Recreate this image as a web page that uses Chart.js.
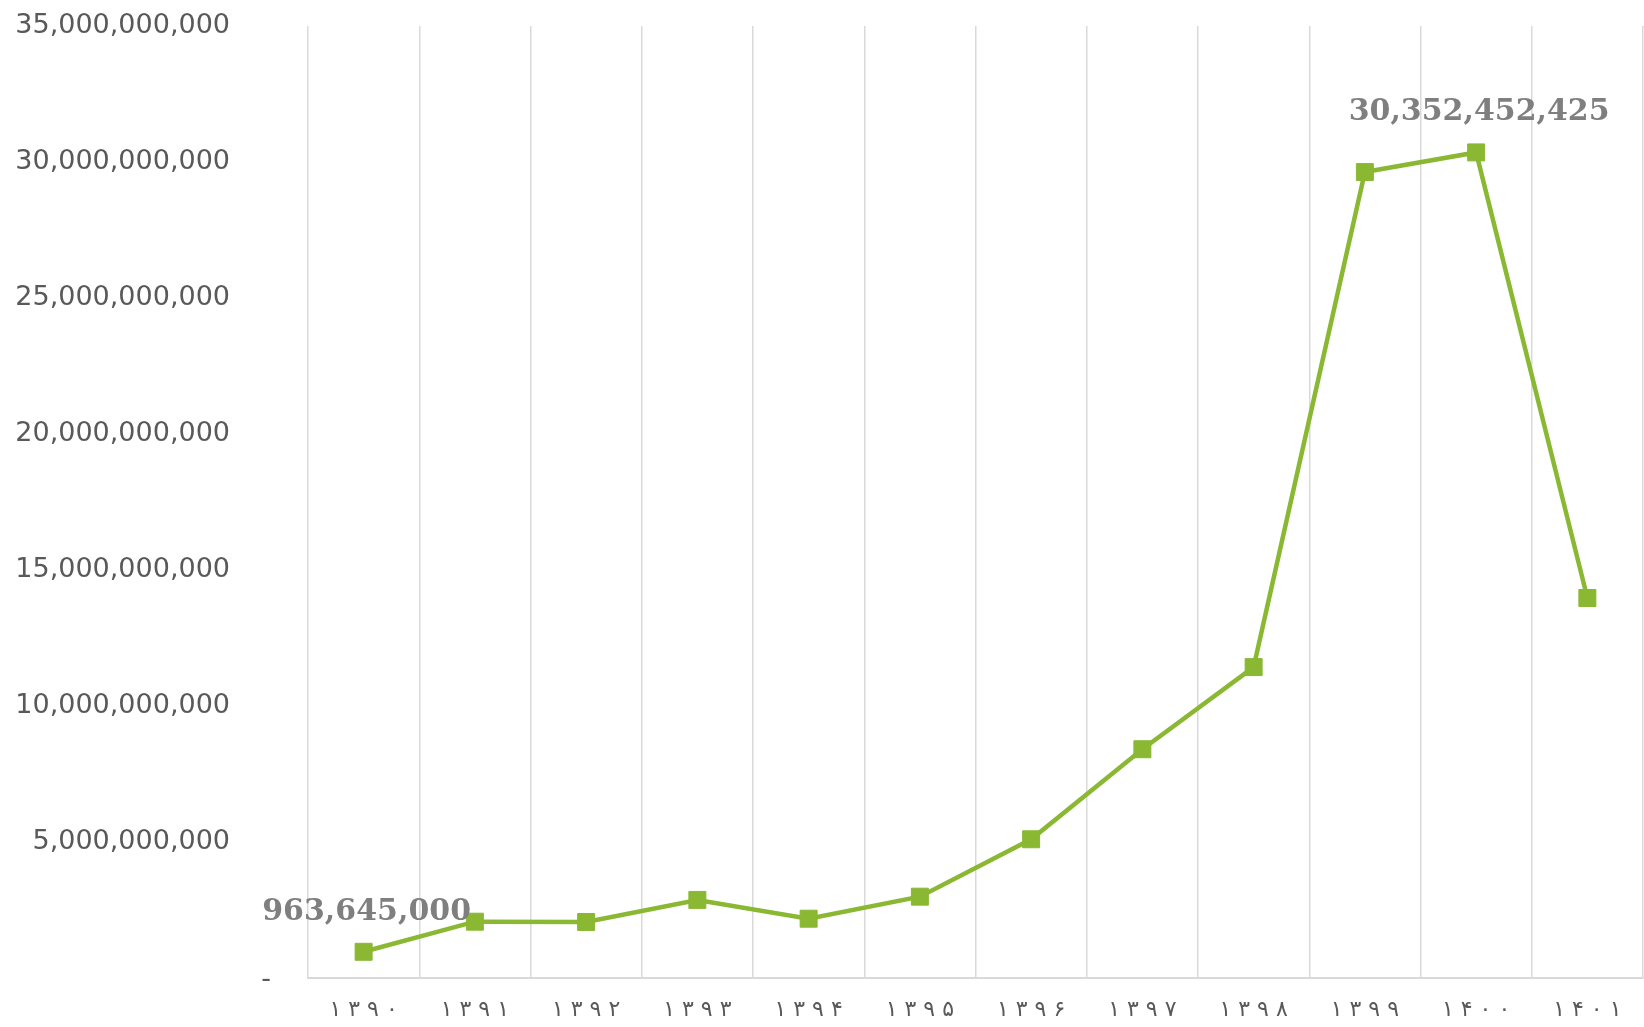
<!DOCTYPE html>
<html>
<head>
<meta charset="utf-8">
<script src="https://cdn.jsdelivr.net/npm/chart.js@4/dist/chart.umd.min.js"></script>
<style>
    html, body { margin: 0; padding: 0; background: #ffffff; overflow: hidden; }
    canvas { display: block; }
</style>
</head>
<body>
<canvas id="lineChart" width="1644" height="1027"></canvas>
<script>
// Years (Persian calendar)
const years = ['۱ ۳ ۹ ۰', '۱ ۳ ۹ ۱', '۱ ۳ ۹ ۲', '۱ ۳ ۹ ۳', '۱ ۳ ۹ ۴', '۱ ۳ ۹ ۵',
    '۱ ۳ ۹ ۶', '۱ ۳ ۹ ۷', '۱ ۳ ۹ ۸', '۱ ۳ ۹ ۹', '۱ ۴ ۰ ۰', '۱ ۴ ۰ ۱'];
const amounts = [963645000, 2070000000, 2060000000, 2870000000, 2180000000, 2990000000,
    5100000000, 8410000000, 11430000000, 29630000000, 30352452425, 13970000000];
// points that carry a value label
const labelledPoints = [0, 10];
const yMax = 35000000000;
const yStep = 5000000000;

const green = '#8AB833';

// value labels above chosen points, and the "-" for the zero tick
const valueLabels = {
    id: 'valueLabels',
    afterDatasetsDraw(chart) {
        const ctx = chart.ctx;
        const meta = chart.getDatasetMeta(0);
        ctx.save();
        ctx.font = 'bold 30px "DejaVu Serif"';
        ctx.fillStyle = '#7f7f7f';
        ctx.textAlign = 'center';
        ctx.textBaseline = 'middle';
        labelledPoints.forEach(i => {
            const pt = meta.data[i];
            ctx.fillText(amounts[i].toLocaleString('en-US'), pt.x + 3, pt.y - 40);
        });
        const y0 = chart.scales.y.getPixelForValue(0);
        ctx.font = '27px "DejaVu Sans"';
        ctx.fillStyle = '#595959';
        ctx.fillText('-', chart.chartArea.left - 42, y0 + 2);
        ctx.restore();
    }
};

const lineCtx = document.getElementById('lineChart').getContext('2d');
const lineChart = new Chart(lineCtx, {
    type: 'line',
    data: {
        labels: years,
        datasets: [{
            data: amounts,
            borderColor: green,
            backgroundColor: green,
            borderWidth: 4.5,
            pointStyle: 'rect',
            pointRadius: 12,
            pointBorderWidth: 1,
            pointBorderColor: green,
            pointBackgroundColor: green,
            tension: 0,
            clip: false
        }]
    },
    options: {
        responsive: false,
        animation: false,
        layout: {
            autoPadding: false,
            padding: { top: 26, left: 13, right: 1, bottom: 6 }
        },
        plugins: {
            legend: { display: false },
            tooltip: { enabled: false }
        },
        scales: {
            x: {
                offset: true,
                afterFit: scale => { scale.height = 43; },
                grid: {
                    offset: true,
                    color: '#d9d9d9',
                    lineWidth: 1.5,
                    drawTicks: false
                },
                border: { color: '#d9d9d9', width: 2 },
                ticks: {
                    padding: 19,
                    maxRotation: 0,
                    color: '#595959',
                    font: { family: '"DejaVu Sans"', size: 22 }
                }
            },
            y: {
                min: 0,
                max: yMax,
                afterFit: scale => {
                    scale.width = 295;
                    scale.paddingTop = 0;
                    scale.paddingBottom = 0;
                },
                grid: { display: false, drawTicks: false },
                border: { display: false },
                ticks: {
                    stepSize: yStep,
                    padding: 78,
                    color: '#595959',
                    font: { family: '"DejaVu Sans"', size: 27 },
                    callback: value => value === 0 ? '' : value.toLocaleString('en-US')
                }
            }
        }
    },
    plugins: [valueLabels]
});
</script>
</body>
</html>
